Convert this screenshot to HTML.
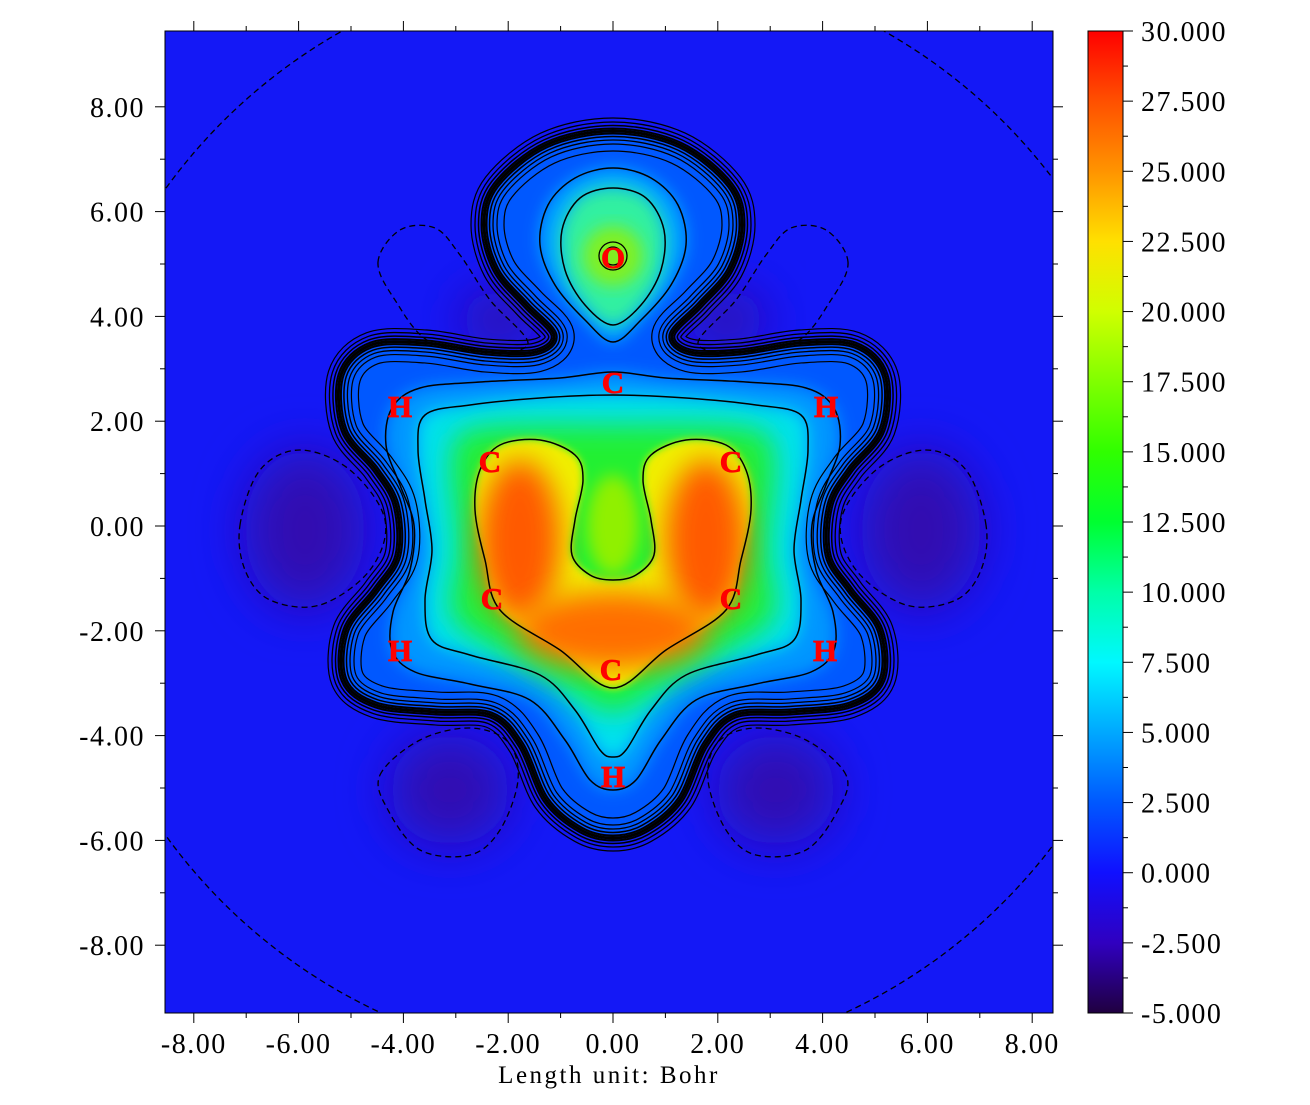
<!DOCTYPE html>
<html><head><meta charset="utf-8"><style>
html,body{margin:0;padding:0;background:#fff;}
svg{display:block;}
text{font-family:"Liberation Serif",serif;}
</style></head><body>
<svg id="s" width="1310" height="1105" xmlns="http://www.w3.org/2000/svg">
<defs>
<clipPath id="pc"><rect x="165" y="31" width="888" height="982"/></clipPath>
<filter id="b4" x="-20%" y="-20%" width="140%" height="140%"><feGaussianBlur stdDeviation="4"/></filter>
<filter id="b8" x="-20%" y="-20%" width="140%" height="140%"><feGaussianBlur stdDeviation="8"/></filter>
<filter id="b14" x="-30%" y="-30%" width="160%" height="160%"><feGaussianBlur stdDeviation="14"/></filter>
<filter id="b25" x="-50%" y="-50%" width="200%" height="200%"><feGaussianBlur stdDeviation="25"/></filter>
<linearGradient id="cb" x1="0" y1="0" x2="0" y2="1">
<stop offset="0" stop-color="#ff0000"/>
<stop offset="0.0714" stop-color="#ff5000"/>
<stop offset="0.1428" stop-color="#ff9400"/>
<stop offset="0.2143" stop-color="#ffe000"/>
<stop offset="0.2857" stop-color="#d0ff00"/>
<stop offset="0.3571" stop-color="#80ff00"/>
<stop offset="0.4286" stop-color="#30ff00"/>
<stop offset="0.5" stop-color="#00ff30"/>
<stop offset="0.5714" stop-color="#00ffa8"/>
<stop offset="0.6428" stop-color="#00f8ff"/>
<stop offset="0.7143" stop-color="#00a8ff"/>
<stop offset="0.7857" stop-color="#0058ff"/>
<stop offset="0.8571" stop-color="#1010ff"/>
<stop offset="0.9286" stop-color="#3000c0"/>
<stop offset="1" stop-color="#200040"/>
</linearGradient>
</defs>
<g id="plot" clip-path="url(#pc)"></g>
<g id="axes"></g>
</svg>
<script>
var NS="http://www.w3.org/2000/svg";
function el(p,t,a){var e=document.createElementNS(NS,t);for(var k in a)e.setAttribute(k,a[k]);p.appendChild(e);return e;}
function mir(h){var r=h.slice();for(var i=h.length-2;i>0;i--)r.push([1226-h[i][0],h[i][1]]);return r;}
function cr(p){var n=p.length,d="M"+p[0][0]+","+p[0][1];for(var i=0;i<n;i++){var p0=p[(i-1+n)%n],p1=p[i],p2=p[(i+1)%n],p3=p[(i+2)%n];
d+="C"+(p1[0]+(p2[0]-p0[0])/6).toFixed(1)+","+(p1[1]+(p2[1]-p0[1])/6).toFixed(1)+" "+(p2[0]-(p3[0]-p1[0])/6).toFixed(1)+","+(p2[1]-(p3[1]-p1[1])/6).toFixed(1)+" "+p2[0]+","+p2[1];}return d+"Z";}
function mx(p){return p.map(function(q){return [1226-q[0],q[1]];});}
var P=document.getElementById("plot"),A=document.getElementById("axes");
el(P,"rect",{x:165,y:31,width:888,height:982,fill:"#1418f6"});
var spots=[[305,530,60,80],[921,530,60,80],[500,320,40,30],[726,320,40,30],[450,790,60,55],[776,790,60,55]];
spots.forEach(function(s){el(P,"ellipse",{cx:s[0],cy:s[1],rx:s[2],ry:s[3],fill:"#3008b0",filter:"url(#b25)"});});
var E=mir([[613,131],[546,145],[496,185],[484,225],[496,270],[526,305],[554,335],[536,352],[486,352],[426,343],[371,345],[341,375],[344,430],[376,470],[396,505],[398,555],[376,590],[346,630],[344,680],[376,705],[436,712],[491,715],[521,745],[546,800],[581,830],[613,838]]);
var LC=mir([[613,372],[560,378],[480,382],[420,388],[392,408],[386,445],[400,485],[414,525],[410,570],[393,612],[392,650],[415,672],[470,684],[530,700],[565,740],[590,780],[613,790]]);
var O2=mir([[613,342],[585,320],[555,285],[540,245],[548,205],[575,178],[613,168]]);
var LB=mir([[613,395],[540,398],[470,405],[425,415],[418,450],[425,500],[432,550],[425,600],[432,640],[470,655],[540,675],[575,710],[600,750],[613,757]]);
var T=mir([[613,325],[585,305],[565,270],[562,230],[580,198],[613,188]]);
var G=mir([[613,425],[480,428],[452,455],[458,550],[452,615],[500,650],[570,690],[613,712]]);
var Y=mir([[613,688],[560,650],[500,610],[485,560],[475,510],[480,470],[500,445],[540,440],[575,455],[583,480],[575,520],[572,555],[590,575],[613,580]]);
var dE=cr(E);
el(P,"path",{d:dE,fill:"#0058ff",filter:"url(#b4)"});
el(P,"path",{d:cr(LC),fill:"#0096ff",filter:"url(#b8)"});
el(P,"path",{d:cr(O2),fill:"#00a8ff",filter:"url(#b8)"});
el(P,"path",{d:cr(LB),fill:"#00e0f0",filter:"url(#b8)"});
el(P,"path",{d:cr(T),fill:"#30f0a0",filter:"url(#b8)"});
el(P,"circle",{cx:613,cy:256,r:30,fill:"#80f020",filter:"url(#b8)"});
el(P,"path",{d:cr(G),fill:"#20f030",filter:"url(#b14)"});
el(P,"path",{d:cr(Y),fill:"#f0f000",filter:"url(#b4)"});
[[520,540,40,80],[706,540,40,80]].forEach(function(s){el(P,"ellipse",{cx:s[0],cy:s[1],rx:s[2],ry:s[3],fill:"#ff5a00",filter:"url(#b14)"});});
el(P,"ellipse",{cx:613,cy:630,rx:95,ry:38,fill:"#ff6e00",filter:"url(#b14)"});
el(P,"ellipse",{cx:613,cy:525,rx:26,ry:50,fill:"#90f000",filter:"url(#b8)"});
[[2.5,2],[5.5,1.5],[9,1.3],[13,1.2]].forEach(function(r){
 var id="m"+r[0];var m=el(P,"mask",{id:id,maskUnits:"userSpaceOnUse",x:0,y:0,width:1310,height:1105});
 el(m,"path",{d:dE,fill:"none",stroke:"#fff","stroke-width":2*r[0]+r[1],"stroke-linejoin":"round"});
 el(m,"path",{d:dE,fill:"none",stroke:"#000","stroke-width":2*r[0]-r[1],"stroke-linejoin":"round"});
 el(P,"rect",{x:165,y:31,width:888,height:982,fill:"#000",mask:"url(#"+id+")"});
});
// inner-only ring
var m2=el(P,"mask",{id:"mi",maskUnits:"userSpaceOnUse",x:0,y:0,width:1310,height:1105});
el(m2,"path",{d:dE,fill:"none",stroke:"#fff","stroke-width":41.2});
el(m2,"path",{d:dE,fill:"none",stroke:"#000","stroke-width":38.8});
var cp=el(P,"clipPath",{id:"ein"});el(cp,"path",{d:dE});
el(P,"rect",{x:165,y:31,width:888,height:982,fill:"#000",mask:"url(#mi)","clip-path":"url(#ein)"});
el(P,"path",{d:dE,fill:"none",stroke:"#000","stroke-width":3});
[LC,O2,LB,T,Y].forEach(function(p){el(P,"path",{d:cr(p),fill:"none",stroke:"#000","stroke-width":1.5});});
el(P,"circle",{cx:613,cy:256,r:14,fill:"none",stroke:"#000","stroke-width":1.3});
el(P,"circle",{cx:613,cy:256,r:9,fill:"none",stroke:"#000","stroke-width":1.3});
var dl=[[[240,525],[260,470],[300,450],[350,470],[385,520],[370,570],[320,605],[270,600],[245,570]],
[[378,262],[400,230],[435,228],[460,255],[490,300],[528,343],[490,352],[430,342],[395,300]],
[[380,775],[420,740],[470,728],[508,742],[518,780],[500,830],[470,855],[420,850],[388,810]]];
dl.forEach(function(p){[p,mx(p)].forEach(function(q){el(P,"path",{d:cr(q),fill:"none",stroke:"#000","stroke-width":1.3,"stroke-dasharray":"6,4"});});});
el(P,"circle",{cx:613,cy:512,r:552,fill:"none",stroke:"#000","stroke-width":1.3,"stroke-dasharray":"6,4"});
[["O",613,258],["C",613,383],["H",400,407],["H",826,407],["C",490,462],["C",731,462],["C",492,599],["C",731,599],["H",400,651],["H",825,651],["C",611,670],["H",613,777]].forEach(function(a){
 var t=el(P,"text",{x:a[1],y:a[2]+10,"text-anchor":"middle","font-size":31,"font-weight":"bold",fill:"#ff0000",stroke:"#ff0000","stroke-width":0.8});t.textContent=a[0];});
el(A,"rect",{x:165,y:31,width:888,height:982,fill:"none",stroke:"#000","stroke-width":1});
function X(v){return 613+v*52.4;} function Yv(v){return 526-v*52.4;}
for(var v=-8;v<=8;v++){var x=X(v),L=(v%2==0)?10:5;
 el(A,"line",{x1:x,y1:1013,x2:x,y2:1013+L,stroke:"#000"});el(A,"line",{x1:x,y1:31,x2:x,y2:31-L,stroke:"#000"});
 var y=Yv(v);el(A,"line",{x1:165,y1:y,x2:165-L,y2:y,stroke:"#000"});el(A,"line",{x1:1053,y1:y,x2:1053+L,y2:y,stroke:"#000"});
 if(v%2==0){var s=(v>=0?"":"-")+Math.abs(v).toFixed(2);
  var t=el(A,"text",{x:x,y:1053,"text-anchor":"middle","font-size":28,"letter-spacing":"1.5"});t.textContent=s;
  var t2=el(A,"text",{x:145,y:y+10,"text-anchor":"end","font-size":28,"letter-spacing":"1.5"});t2.textContent=s;}}
var t=el(A,"text",{x:609,y:1083,"text-anchor":"middle","font-size":25,"letter-spacing":"2.5"});t.textContent="Length unit: Bohr";
el(A,"rect",{x:1088,y:31,width:35,height:982,fill:"url(#cb)"});
el(A,"rect",{x:1088,y:31,width:35,height:982,fill:"none",stroke:"#000","stroke-width":1});
for(var i=0;i<=28;i++){var y=31+i*982/28,L=(i%2==0)?10:5;el(A,"line",{x1:1123,y1:y,x2:1123+L,y2:y,stroke:"#000"});
 if(i%2==0){var val=30-i*1.25;var tt=el(A,"text",{x:1141,y:y+10,"font-size":28,"letter-spacing":"1.5"});tt.textContent=val.toFixed(3);}}
</script>
</body></html>
